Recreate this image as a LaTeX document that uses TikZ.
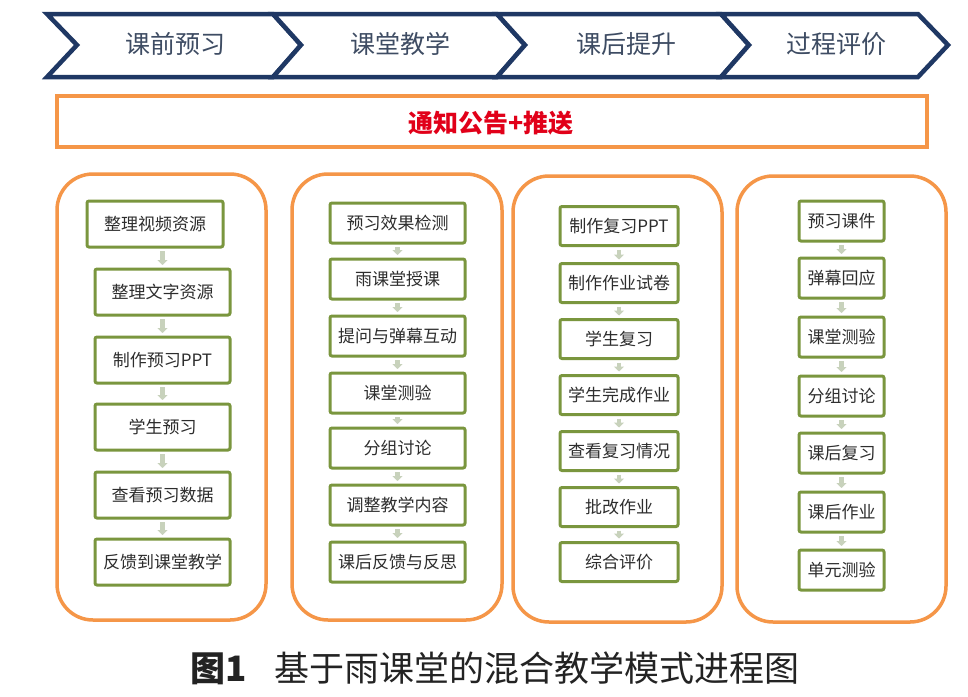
\documentclass[tikz,border=0pt]{standalone}
\usepackage{fontspec}
\setmainfont{Noto Sans CJK SC}
\usetikzlibrary{arrows.meta}
\definecolor{navyC}{RGB}{31,56,100}
\definecolor{chevtxt}{RGB}{62,76,99}
\definecolor{orangeC}{RGB}{245,150,72}
\definecolor{redC}{RGB}{225,0,25}
\definecolor{greenC}{RGB}{122,150,62}
\definecolor{boxtxt}{RGB}{45,45,45}
\definecolor{connC}{RGB}{200,210,188}
\definecolor{capC}{RGB}{35,35,35}
\begin{document}
\begin{tikzpicture}[x=1pt,y=-1pt,
  chev/.style={draw=navyC,line width=4.5pt,fill=white,line join=miter},
  chevtext/.style={font=\fontsize{25}{25}\selectfont,text=chevtxt,inner sep=0pt},
  banner/.style={draw=orangeC,line width=4pt,fill=white},
  bannertext/.style={font=\bfseries\fontsize{25}{25}\selectfont,text=redC,inner sep=0pt},
  colbox/.style={draw=orangeC,line width=3.5pt,fill=white,rounded corners=36pt},
  stepbox/.style={draw=greenC,line width=3pt,fill=white,rounded corners=2pt,
    font=\fontsize{17}{17}\selectfont,text=boxtxt,inner sep=0pt},
  conn/.style={draw=connC,line width=4.5pt,-{Triangle[width=10pt,length=5pt]},
    shorten <=2.5pt,shorten >=2.5pt},
  captext/.style={font=\fontsize{35}{35}\selectfont,text=capC,inner sep=0pt}
]
\useasboundingbox[fill=white] (0,0) rectangle (968,696);

% chevrons
\draw[chev] (47,14) -- (273,14) -- (301,45) -- (273,77) -- (47,77) -- (77,45) -- cycle;
\draw[chev] (273,14) -- (497,14) -- (525,45) -- (497,77) -- (273,77) -- (301,45) -- cycle;
\draw[chev] (497,14) -- (721,14) -- (749,45) -- (721,77) -- (497,77) -- (525,45) -- cycle;
\draw[chev] (721,14) -- (918,14) -- (948,45) -- (918,77) -- (721,77) -- (749,45) -- cycle;
\node[chevtext] (h1) at (175,44) {课前预习};
\node[chevtext] (h2) at (400,44) {课堂教学};
\node[chevtext] (h3) at (626,44) {课后提升};
\node[chevtext] (h4) at (836,44) {过程评价};

% banner
\draw[banner] (57,96) rectangle (927,147);
\node[bannertext] (ban) at (491,123) {通知公告+推送};

% columns
\draw[colbox] (57,174) rectangle (266,620);
\draw[colbox] (292,174) rectangle (502,620);
\draw[colbox] (513,176) rectangle (722,622);
\draw[colbox] (737,176) rectangle (946,622);

% column 1
\node[stepbox,minimum width=136pt,minimum height=46pt] (a1) at (155,224) {整理视频资源};
\foreach \n/\y/\t in {2/292/整理文字资源,3/360/制作预习PPT,4/427/学生预习,5/495/查看预习数据,6/562/反馈到课堂教学}
  \node[stepbox,minimum width=135pt,minimum height=46pt] (a\n) at (162.5,\y) {\t};

% column 2
\foreach \n/\y/\t in {1/223/预习效果检测,2/279/雨课堂授课,3/336/提问与弹幕互动,4/393/课堂测验,5/448/分组讨论,6/505/调整教学内容,7/562/课后反馈与反思}
  \node[stepbox,minimum width=135pt,minimum height=40pt] (b\n) at (397.5,\y) {\t};

% column 3
\foreach \n/\y/\t in {1/226/制作复习PPT,2/283/制作作业试卷,3/339/学生复习,4/395/学生完成作业,5/451/查看复习情况,6/507/批改作业,7/562/综合评价}
  \node[stepbox,minimum width=118pt,minimum height=39pt] (c\n) at (619,\y) {\t};

% column 4
\foreach \n/\y/\t in {1/221/预习课件,2/278/弹幕回应,3/337/课堂测验,4/396/分组讨论,5/453/课后复习,6/512/课后作业,7/570/单元测验}
  \node[stepbox,minimum width=85pt,minimum height=40pt] (d\n) at (841.5,\y) {\t};

% connectors
\draw[conn] (a1.south -| a2.north) -- (a2.north);
\foreach \p/\q in {2/3,3/4,4/5,5/6} \draw[conn] (a\p.south) -- (a\q.north);
\foreach \p/\q in {1/2,2/3,3/4,4/5,5/6,6/7} {
  \draw[conn] (b\p.south) -- (b\q.north);
  \draw[conn] (c\p.south) -- (c\q.north);
  \draw[conn] (d\p.south) -- (d\q.north);
}

% caption
\node[captext,anchor=west] (cap) at (190,668) {\textbf{图1}\hspace{0.8em}基于雨课堂的混合教学模式进程图};
\end{tikzpicture}
\end{document}
